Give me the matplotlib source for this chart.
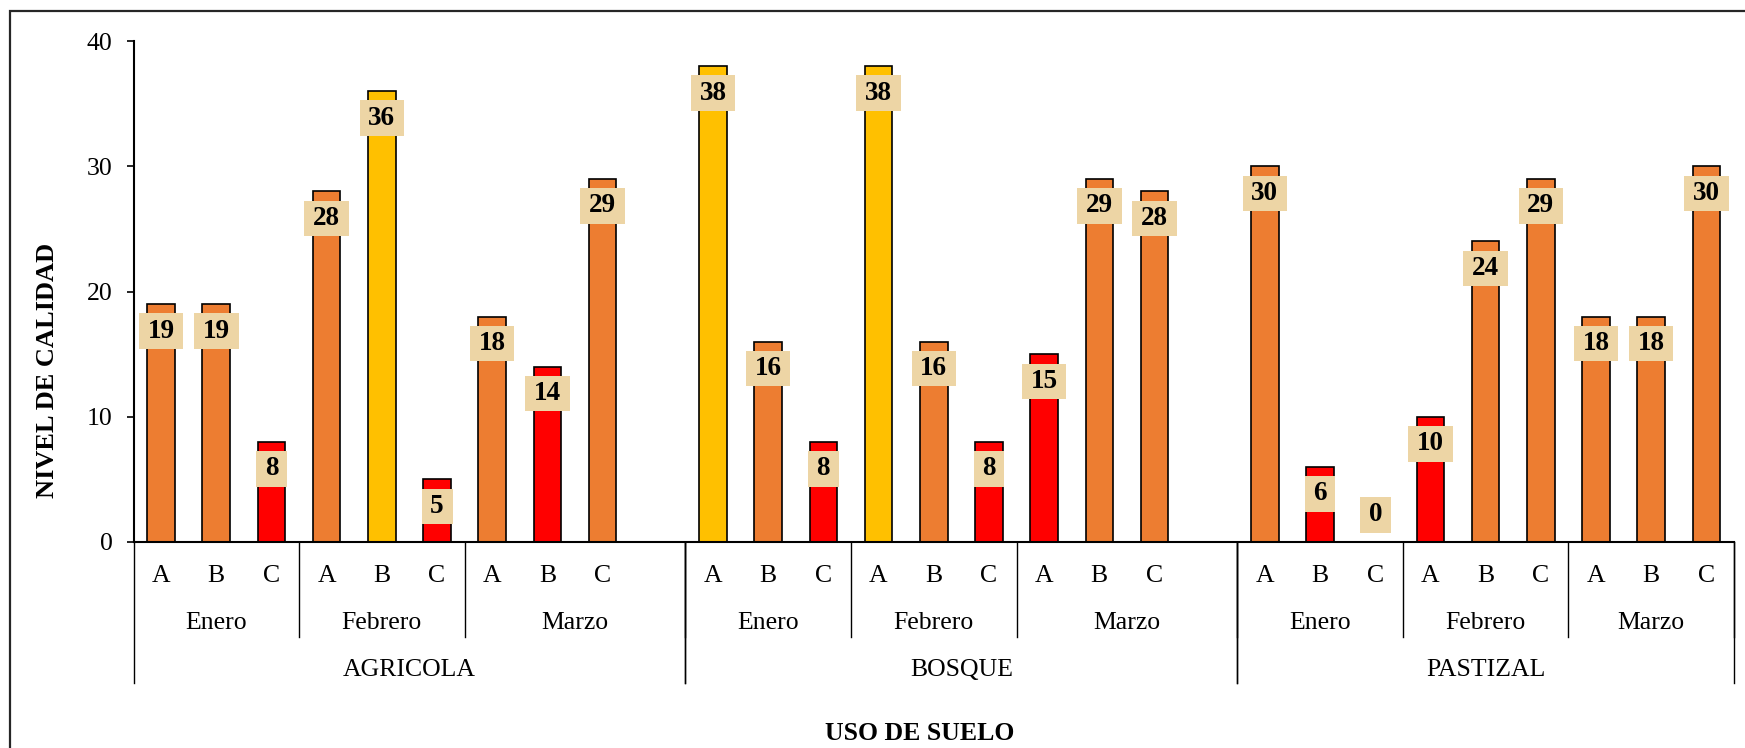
import matplotlib.pyplot as plt
import matplotlib.transforms as mtransforms
from matplotlib.patches import Rectangle

plt.rcParams['font.family'] = ['Liberation Serif', 'DejaVu Serif']

groups = ['AGRICOLA', 'BOSQUE', 'PASTIZAL']
months = ['Enero', 'Febrero', 'Marzo']
sites = ['A', 'B', 'C']

# values per group: Enero A-C, Febrero A-C, Marzo A-C
agricola = [19, 19, 8, 28, 36, 5, 18, 14, 29]
bosque = [38, 16, 8, 38, 16, 8, 15, 29, 28]
pastizal = [30, 6, 0, 10, 24, 29, 18, 18, 30]
# the sheet has an empty row after Marzo in the first two groups
blank_after = [True, True, False]

ORANGE = '#ED7D31'
GOLD = '#FFC000'
RED = '#FF0000'


def bar_color(v):
    if v >= 35:
        return GOLD
    if v > 15:
        return ORANGE
    return RED


# build the slots of the category axis
values = []
site_labels = []
month_spans = []   # (label, start, end)
group_spans = []
pos = 0
for g, vals, blank in zip(groups, [agricola, bosque, pastizal], blank_after):
    g_start = pos
    for m_i, m in enumerate(months):
        m_start = pos
        for s_i, s in enumerate(sites):
            values.append(vals[m_i * 3 + s_i])
            site_labels.append(s)
            pos += 1
        if blank and m_i == len(months) - 1:
            values.append(None)
            site_labels.append('')
            pos += 1
        month_spans.append((m, m_start, pos))
    group_spans.append((g, g_start, pos))
n_slots = pos

W, H = 1745, 748
fig = plt.figure(figsize=(W / 100, H / 100), dpi=100)
ax_left, ax_right, ax_top, ax_bottom = 133.5, 1734, 41, 542
ax = fig.add_axes([ax_left / W, 1 - ax_bottom / H,
                   (ax_right - ax_left) / W, (ax_bottom - ax_top) / H])

xs = [i + 0.5 for i, v in enumerate(values) if v is not None]
vs = [v for v in values if v is not None]
ax.bar(xs, vs, width=0.5, color=[bar_color(v) for v in vs],
       edgecolor='black', linewidth=1.2, zorder=2)

for x, v in zip(xs, vs):
    off = 19.5 if v == 0 else -19.5
    ax.annotate(str(v), (x, v), xytext=(0, off), textcoords='offset points',
                ha='center', va='center', fontsize=19.5, fontweight='bold',
                bbox=dict(boxstyle='square,pad=0.32', fc='#EDD5A5', ec='none',
                          mutation_aspect=0.6),
                zorder=3)

ax.set_xlim(0, n_slots)
ax.set_ylim(0, 40)
ax.set_yticks([0, 10, 20, 30, 40])
ax.tick_params(axis='y', labelsize=18.5, length=5, width=1.2, pad=10)
ax.set_xticks([])
for side in ['top', 'right']:
    ax.spines[side].set_visible(False)
ax.spines['left'].set_linewidth(1.5)
ax.spines['bottom'].set_linewidth(1.5)

# multi-level category labels
trans = mtransforms.blended_transform_factory(ax.transData, ax.transAxes)
ax_h = ax_bottom - ax_top


def ypos(px):
    return (ax_bottom - px) / ax_h


for i, s in enumerate(site_labels):
    ax.text(i + 0.5, ypos(581.5), s, transform=trans, ha='center',
            va='baseline', fontsize=18.5)
for m, a, b in month_spans:
    ax.text((a + b) / 2, ypos(629), m, transform=trans, ha='center',
            va='baseline', fontsize=18.5)
    ax.plot([b, b], [0, ypos(637)], transform=trans, color='black',
            lw=1.0, clip_on=False)
for g, a, b in group_spans:
    ax.text((a + b) / 2, ypos(676.5), g, transform=trans, ha='center',
            va='baseline', fontsize=18.5)
    for edge in (a, b):
        ax.plot([edge, edge], [0, ypos(683)], transform=trans, color='black',
                lw=1.0, clip_on=False)

fig.text(48 / W, 1 - 370 / H, 'NIVEL DE CALIDAD', rotation=90, ha='center',
         va='center', fontsize=19, fontweight='bold')
fig.text(920 / W, 1 - 740 / H, 'USO DE SUELO', ha='center', va='baseline',
         fontsize=18.5, fontweight='bold')

# chart area border
fig.patches.append(Rectangle((10 / W, -0.05), 1.1, 1 - 11 / H + 0.05,
                             transform=fig.transFigure, fill=False,
                             ec='#262626', lw=1.6))

fig.savefig('out.png', dpi=100)
